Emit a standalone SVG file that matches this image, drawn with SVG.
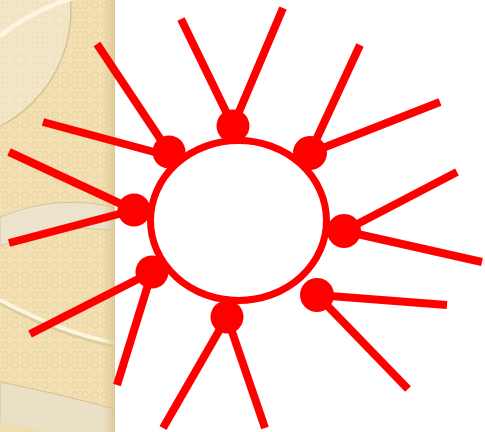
<svg xmlns="http://www.w3.org/2000/svg" width="485" height="432" viewBox="0 0 485 432">
  <style>
    .ray { stroke: #FF0000; stroke-width: 8; stroke-linecap: butt; fill: none; }
    .dot { fill: #FF0000; }
    .ring { fill: #FFFFFF; stroke: #FF0000; stroke-width: 7; }
  </style>
  <defs>
    <pattern id="tex" width="10" height="10" patternUnits="userSpaceOnUse">
      <rect width="10" height="10" fill="#F3E1B4"/>
      <rect x="2" y="2" width="6" height="6" rx="2" fill="none" stroke="#E9D29E" stroke-width="1"/>
    </pattern>
    <pattern id="texLight" width="10" height="10" patternUnits="userSpaceOnUse">
      <rect width="10" height="10" fill="#F4E7C9"/>
      <rect x="2" y="2" width="6" height="6" rx="2" fill="none" stroke="#EEDDB6" stroke-width="1"/>
    </pattern>
    <linearGradient id="edge" x1="0" y1="0" x2="1" y2="0">
      <stop offset="0" stop-color="#D9C48F" stop-opacity="0"/>
      <stop offset="1" stop-color="#D9C48F" stop-opacity="0.8"/>
    </linearGradient>
    <clipPath id="strip"><rect x="0" y="0" width="115" height="432"/></clipPath>
  </defs>

  <rect x="0" y="0" width="485" height="432" fill="#FFFFFF"/>

  <g id="background" clip-path="url(#strip)">
    <rect x="0" y="0" width="115" height="432" fill="url(#tex)"/>
    <circle cx="-60" cy="10" r="131" fill="url(#texLight)" stroke="#D4C398" stroke-width="1.5"/>
    <path d="M0,36 Q30,12 72,-2" fill="none" stroke="#FCF5E0" stroke-width="5"/>
    <path d="M0,217 Q60,193 115,208 L115,231 Q60,222 0,246 Z" fill="#ECE3CC" stroke="#D6C69E" stroke-width="1"/>
    <path d="M0,303 Q60,336 115,346" fill="none" stroke="#DCCB9E" stroke-width="3"/>
    <path d="M0,300 Q60,332 115,343" fill="none" stroke="#FCF4DD" stroke-width="4"/>
    <path d="M0,382 Q60,394 115,409 L115,440 L0,440 Z" fill="#EAE0C6" stroke="#D3C196" stroke-width="1"/>
    <path d="M0,422 Q40,428 70,440 L0,440 Z" fill="#EFDDB2"/>
    <rect x="103" y="0" width="12" height="432" fill="url(#edge)"/>
  </g>

  <g id="connectors">
    <line class="ray" x1="233" y1="126" x2="181" y2="19"/>
    <line class="ray" x1="233" y1="126" x2="283" y2="8"/>
    <line class="ray" x1="169" y1="152" x2="97" y2="44"/>
    <line class="ray" x1="169" y1="156" x2="43" y2="122"/>
    <line class="ray" x1="310" y1="153" x2="360" y2="45"/>
    <line class="ray" x1="310" y1="153" x2="440" y2="102"/>
    <line class="ray" x1="134" y1="210" x2="9" y2="152"/>
    <line class="ray" x1="134" y1="210" x2="9" y2="243"/>
    <line class="ray" x1="344" y1="231" x2="457" y2="172"/>
    <line class="ray" x1="344" y1="231" x2="482" y2="262"/>
    <line class="ray" x1="152" y1="272" x2="30" y2="334"/>
    <line class="ray" x1="152" y1="272" x2="117" y2="385"/>
    <line class="ray" x1="317" y1="295" x2="447" y2="305"/>
    <line class="ray" x1="317" y1="295" x2="408" y2="389"/>
    <line class="ray" x1="227" y1="317" x2="163" y2="428"/>
    <line class="ray" x1="227" y1="317" x2="265" y2="428"/>
  </g>

  <g id="hub">
    <ellipse class="ring" cx="238.5" cy="220.5" rx="88" ry="80"/>
  </g>

  <g id="node-top"><circle class="dot" cx="233" cy="126" r="16.5"/></g>
  <g id="node-upper-left"><circle class="dot" cx="169" cy="152" r="16.5"/></g>
  <g id="node-upper-right"><circle class="dot" cx="310" cy="153" r="17"/></g>
  <g id="node-left"><circle class="dot" cx="134" cy="210" r="16.5"/></g>
  <g id="node-right"><circle class="dot" cx="344" cy="231" r="17"/></g>
  <g id="node-lower-left"><circle class="dot" cx="152" cy="272" r="16.5"/></g>
  <g id="node-lower-right"><circle class="dot" cx="317" cy="295" r="17"/></g>
  <g id="node-bottom"><circle class="dot" cx="227" cy="317" r="16.5"/></g>
</svg>
